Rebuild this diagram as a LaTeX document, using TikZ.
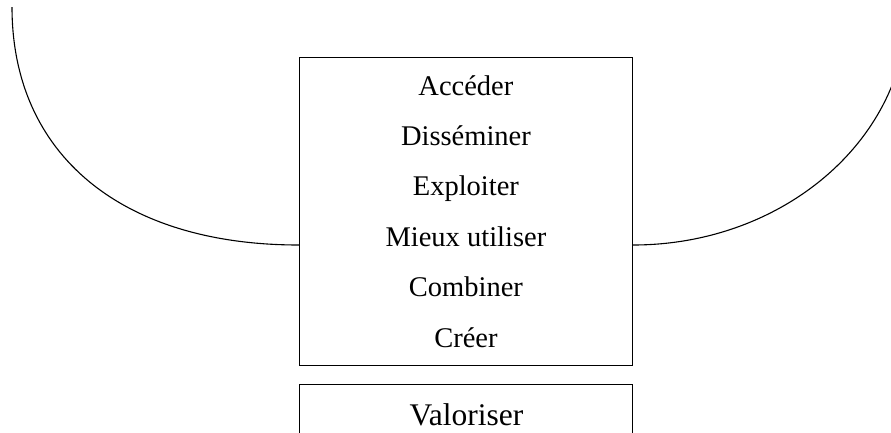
\documentclass[tikz,border=0pt]{standalone}
\usepackage{fontspec}
\setmainfont{Liberation Serif}
\begin{document}
\begin{tikzpicture}[x=1pt,y=-1pt,
  frame/.style={draw=black,line width=1.2pt,inner sep=0pt,minimum width=332.8pt},
  item/.style={anchor=base,inner sep=0pt,font=\fontsize{28.5}{34}\selectfont},
  bigitem/.style={anchor=base,inner sep=0pt,font=\fontsize{31.5}{36}\selectfont},
  arc line/.style={draw=black,line width=1.1pt}]
\useasboundingbox (0,0) rectangle (891,432);
\clip (0,0) rectangle (891,432);
% main box with the list of actions
\node[frame,minimum height=308.4pt] (main) at (465.9,211.5) {};
% lower box, running off the bottom edge
\node[frame,minimum height=60pt] (lower) at (465.9,414.3) {};
% the list
\node[item] (t1) at (465.9,95.0) {Accéder};
\node[item] (t2) at (465.9,145.4) {Disséminer};
\node[item] (t3) at (465.9,195.8) {Exploiter};
\node[item] (t4) at (465.9,246.2) {Mieux utiliser};
\node[item] (t5) at (465.9,296.6) {Combiner};
\node[item] (t6) at (465.9,347.0) {Créer};
\node[bigitem] (t7) at (466.5,425.0) {Valoriser};
% side arcs
\coordinate (jl) at (main.west |- 0,245);
\coordinate (jr) at (main.east |- 0,245);
\coordinate (ltop) at (12,7);
\coordinate (rtop) at (907.3,7);
\draw[arc line] (jl) .. controls (121.4,245) and (12,154.6) .. (ltop);
\draw[arc line] (jr) .. controls (784.2,245) and (907.3,138.4) .. (rtop);
\end{tikzpicture}
\end{document}
